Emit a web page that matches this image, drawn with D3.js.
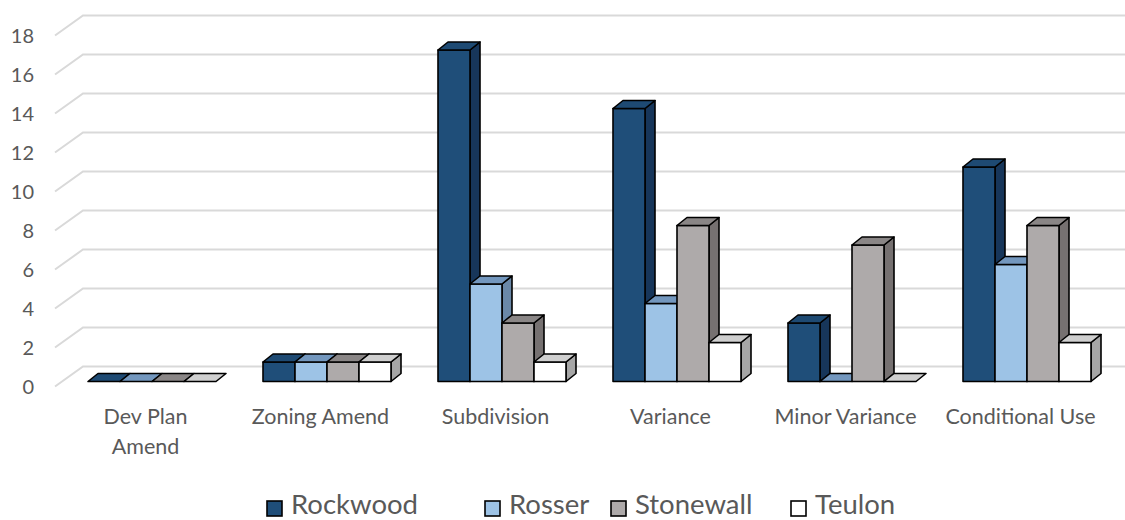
<!DOCTYPE html>
<html>
<head>
<meta charset="utf-8">
<style>
    body { margin: 0; background: #fff; font-family: Lato, "Open Sans", sans-serif; }
    svg text { fill: #595959; }
</style>
</head>
<body>
<div id="chart"></div>
<script src="https://cdn.jsdelivr.net/npm/d3@7"></script>
<script>
// data
var categories = ["Dev Plan Amend", "Zoning Amend", "Subdivision", "Variance", "Minor Variance", "Conditional Use"];
var series = ["Rockwood", "Rosser", "Stonewall", "Teulon"];
var rockwood  = [0, 1, 17, 14, 3, 11];
var rosser    = [0, 1, 5, 4, 0, 6];
var stonewall = [0, 1, 3, 8, 7, 8];
var teulon    = [0, 1, 1, 2, 0, 2];
var yTicks = [0, 2, 4, 6, 8, 10, 12, 14, 16, 18];

var values = [rockwood, rosser, stonewall, teulon];
var faceColors = ["#1f4e79", "#9dc3e6", "#aeaaaa", "#ffffff"];
var topColors  = ["#1e4a73", "#7397be", "#8a8686", "#cfcfcf"];
var sideColors = ["#17365a", "#6a88a8", "#767171", "#a6a6a6"];

var W = 1125, H = 520;
var svg = d3.select("#chart").append("svg")
    .attr("width", W).attr("height", H);

// oblique depth: front edge of floor -> back wall
var wallDx = 28, wallDy = -20;
// bar plane sits a bit behind the front edge
var barDx = 6, barDy = -5;
var depthDx = 10, depthDy = -8;

var y = d3.scaleLinear().domain([0, 18]).range([386.5, 35.5]);
var x = d3.scaleBand().domain(categories).range([55, 1105]);
var xs = d3.scaleBand().domain(series).range([27, 27 + 128]);

// gridlines (front diagonal + back wall line)
var grid = svg.append("g");
yTicks.forEach(function(t) {
    var fy = y(t);
    grid.append("path")
        .attr("d", "M55," + fy + "L" + (55 + wallDx) + "," + (fy + wallDy) + "H" + W)
        .attr("fill", "none")
        .attr("stroke", "#d9d9d9")
        .attr("stroke-width", 2);
});

// y tick labels
svg.append("g").selectAll("text")
    .data(yTicks).join("text")
    .attr("x", 34)
    .attr("y", function(d) { return y(d); })
    .attr("dy", "0.35em")
    .attr("text-anchor", "end")
    .style("font-size", "20px")
    .text(function(d) { return d; });

// bars, drawn left to right so each front face covers the previous side face
var bars = svg.append("g")
    .attr("stroke", "#000")
    .attr("stroke-width", 1.6)
    .attr("stroke-linejoin", "round");

categories.forEach(function(c, i) {
    series.forEach(function(s, j) {
        var v = values[j][i];
        var x0 = x(c) + xs(s) + barDx, w = xs.bandwidth();
        var yb = y(0) + barDy, yt = y(v) + barDy;
        var x1 = x0 + w;
        var g = bars.append("g");
        if (v > 0) {
            g.append("path")
                .attr("d", "M" + x1 + "," + yb + "L" + x1 + "," + yt + "l" + depthDx + "," + depthDy +
                    "L" + (x1 + depthDx) + "," + (yb + depthDy) + "Z")
                .attr("fill", sideColors[j]);
            g.append("rect")
                .attr("x", x0).attr("y", yt)
                .attr("width", w).attr("height", yb - yt)
                .attr("fill", faceColors[j]);
        }
        g.append("path")
            .attr("d", "M" + x0 + "," + yt + "L" + x1 + "," + yt + "l" + depthDx + "," + depthDy +
                "L" + (x0 + depthDx) + "," + (yt + depthDy) + "Z")
            .attr("fill", topColors[j]);
    });
});

// category labels
var labelLines = {
    "Dev Plan Amend": ["Dev Plan", "Amend"]
};
var cl = svg.append("g");
categories.forEach(function(c) {
    var lines = labelLines[c] || [c];
    var cx = x(c) + x.bandwidth() / 2 + 3;
    var t = cl.append("text")
        .attr("x", cx)
        .attr("y", 424)
        .attr("text-anchor", "middle")
        .style("font-size", "21.5px");
    lines.forEach(function(l, k) {
        t.append("tspan")
            .attr("x", cx)
            .attr("dy", k === 0 ? 0 : 30)
            .text(l);
    });
});

// legend
var legendX = [267, 485, 611, 791];
var lg = svg.append("g");
series.forEach(function(s, j) {
    lg.append("rect")
        .attr("x", legendX[j]).attr("y", 501)
        .attr("width", 15).attr("height", 15)
        .attr("fill", faceColors[j])
        .attr("stroke", "#000").attr("stroke-width", 1.6);
    lg.append("text")
        .attr("x", legendX[j] + 24).attr("y", 514)
        .style("font-size", "27.5px")
        .text(s);
});
</script>
</body>
</html>
